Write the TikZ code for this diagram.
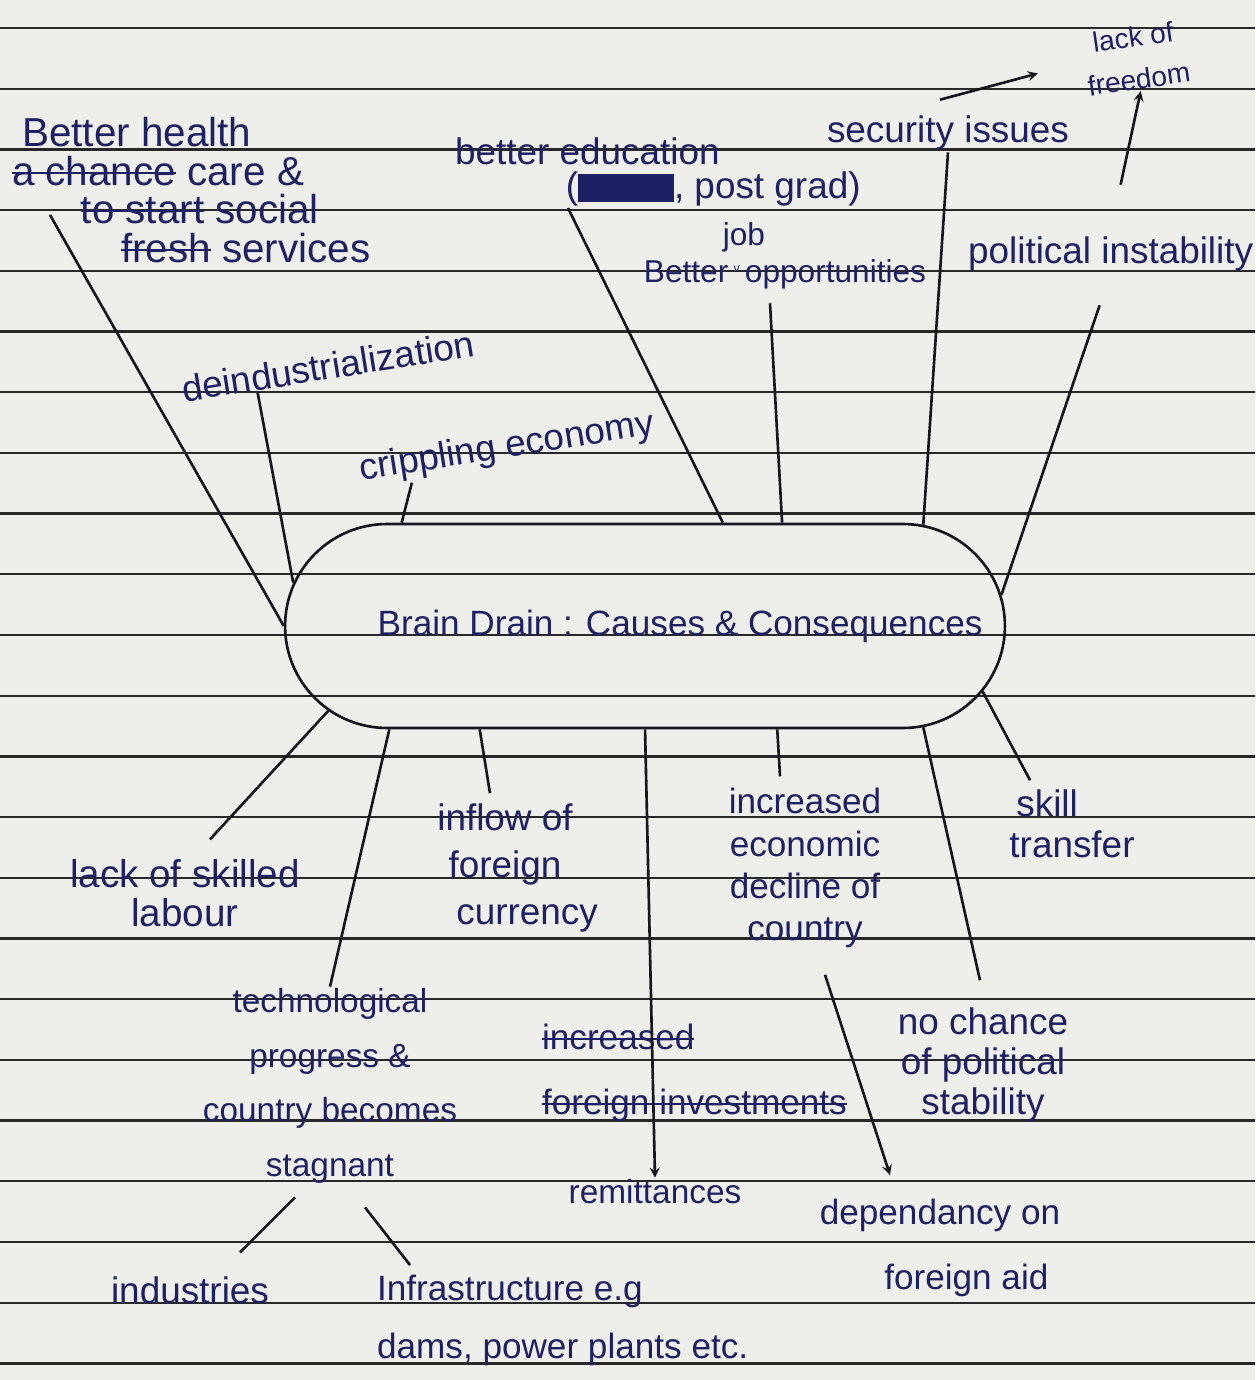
\documentclass[tikz,border=0pt]{standalone}
\usepackage{fontspec}
\setmainfont{Liberation Sans}
\usetikzlibrary{shapes.misc}
\lineskiplimit=-100pt
\definecolor{ink}{RGB}{30,32,100}
\definecolor{penc}{RGB}{22,22,30}
\definecolor{paper}{RGB}{238,238,234}
\definecolor{ruled}{RGB}{40,40,40}
\newcommand{\scribble}{\rule[-0.1em]{2.6em}{0.75em}}
\newcommand{\crossed}[1]{\setbox0\hbox{#1}\rlap{\rule[0.28em]{\wd0}{1.2pt}}\box0\relax}
\begin{document}
\begin{tikzpicture}[x=0.02cm, y=-0.02cm,
  pen/.style={draw=penc, line width=1.5pt},
  ruling/.style={draw=ruled, line width=1.3pt},
  note/.style 2 args={text=ink, inner sep=1pt, align=center, font=\fontsize{#1}{#2}\selectfont},
  brainbox/.style={rounded rectangle, draw=penc, line width=1.5pt, minimum width=14.4cm, minimum height=4.08cm, inner sep=0pt, text=ink, font=\fontsize{20}{24}\selectfont}]
\fill [paper](0,0) rectangle (1255,1380);
\useasboundingbox (0,0) rectangle (1255,1380);
\foreach \k in {0,...,22}{\draw [ruling](0,28+60.7*\k) -- (1255,28+60.7*\k);}
\node [brainbox](brain) at (645,626){\hspace*{2em}Brain Drain : Causes \& Consequences};
\node [note={23}{22}, align=left, anchor=north west](health) at (10,115){\hspace*{0.25em}Better health\\\crossed{a chance} care \&\\\hspace*{1.7em}\crossed{to start} social\\\hspace*{2.7em}\crossed{fresh} services};
\node [note={21}{25}, rotate=9](deind) at (328,366){deindustrialization};
\node [note={21}{25}, rotate=9](crippling) at (507,448){crippling economy};
\node [note={21}{19}, align=left, anchor=north west](edu) at (453,136){better education\\\hspace*{3em}(\scribble, post grad)};
\node [note={18}{21}](job) at (785,256){job\hspace*{2.6em}\\Better\,\raisebox{0.6ex}{\scriptsize v}\,opportunities};
\node [note={21}{25}](security) at (948,133){security issues};
\node [note={16}{24}, rotate=8](freedom) at (1136,58){lack of\\freedom};
\node [note={21}{25}, anchor=west](political) at (966,254){political instability};
\node [note={22}{22}](labour) at (185,893){lack of skilled\\labour};
\node [note={19}{31}](techno) at (330,1086){technological\\progress \&\\country becomes\\stagnant};
\node [note={21}{27}](inflow) at (505,868){inflow of\\foreign\\\hspace*{1.2em}currency};
\node [note={20}{37}, align=left, anchor=north west](invest) at (540,1022){\crossed{increased}\\\crossed{foreign investments}};
\node [note={19}{23}](remit) at (655,1192){remittances};
\node [note={20}{24}](increased) at (805,868){increased\\economic\\decline of\\country};
\node [note={21}{23}](skill) at (1072,824){skill\hspace*{1.35em}\\transfer};
\node [note={21}{23}](nochance) at (983,1065){no chance\\of political\\stability};
\node [note={20}{37}](depend) at (940,1248){dependancy on\\\hspace*{1.5em}foreign aid};
\node [note={21}{25}](industries) at (190,1290){industries};
\node [note={20}{33}, align=left, anchor=north west](infra) at (375,1273){Infrastructure e.g\\dams, power plants etc.};
\draw [pen](brain.180) edge ([shift={(40,25)}]health.west);
\draw [pen](brain.173) edge (deind.192);
\draw [pen](brain.157) edge (crippling.191);
\draw [pen](brain.53) edge ([shift={(115,0)}]edu.south west);
\draw [pen](brain.37) edge ([shift={(-15,12)}]job.south);
\draw [pen](brain.20) edge (security.south);
\draw [pen](brain.5) edge ([shift={(-11,32)}]political.south);
\draw [pen, -stealth]([shift={(-8,-14)}]security.north) -- ([shift={(-45,8)}]freedom.west);
\draw [pen, -stealth]([shift={(10,-50)}]political.north) -- (freedom.south);
\draw [pen](brain.195) edge ([shift={(25,-18)}]labour.north);
\draw [pen](brain.202) edge (techno.north);
\draw [pen](brain.212) edge ([shift={(-15,-8)}]inflow.north);
\draw [pen, -stealth](brain.270) -- (remit.north);
\draw [pen](brain.322) edge ([shift={(-25,-10)}]increased.north);
\draw [pen](brain.340) edge ([shift={(-3,-25)}]nochance.north);
\draw [pen](brain.349) edge ([shift={(-42,-8)}]skill.north);
\draw [pen, -stealth]([shift={(20,25)}]increased.south) -- ([shift={(-50,-22)}]depend.north);
\draw [pen]([shift={(-35,12)}]techno.south) edge ([shift={(50,-22)}]industries.north);
\draw [pen]([shift={(35,22)}]techno.south) edge ([shift={(35,-8)}]infra.north west);
\end{tikzpicture}
\end{document}
